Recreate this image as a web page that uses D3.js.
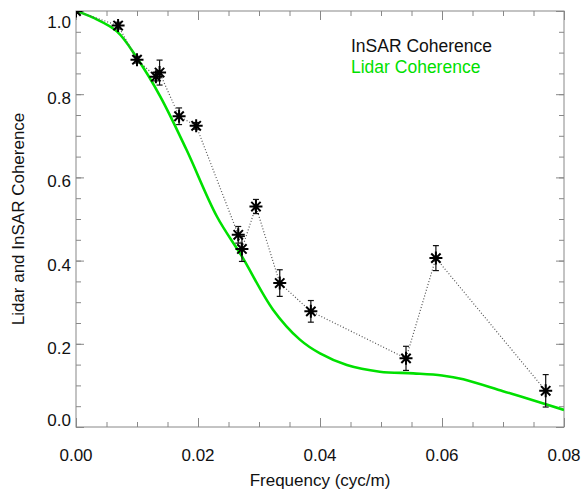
<!DOCTYPE html>
<html lang="en">
<head>
<meta charset="UTF-8">
<title>Lidar and InSAR Coherence</title>
<script src="https://d3js.org/d3.v7.min.js"></script>
<style>
  body { margin: 0; background: #fff; }
  text { font-family: "Liberation Sans", Arial, sans-serif; }
</style>
</head>
<body>
<svg id="chart" width="582" height="495"></svg>
<script>
// InSAR coherence estimates
const insarFreq = [0.0, 0.0069, 0.0100, 0.0131, 0.0137, 0.0169, 0.0197, 0.0266, 0.0272, 0.0295, 0.0334, 0.0385, 0.0541, 0.0590, 0.0770];
const insarCoh  = [1.0, 0.965, 0.883, 0.842, 0.852, 0.747, 0.724, 0.462, 0.428, 0.530, 0.346, 0.278, 0.165, 0.406, 0.087];
const insarErr  = [0.0, 0.008, 0.008, 0.010, 0.030, 0.020, 0.008, 0.020, 0.030, 0.017, 0.032, 0.026, 0.029, 0.030, 0.039];

// Lidar coherence curve
const lidarFreq = [0, 0.0028, 0.0067, 0.0100, 0.0138, 0.0181, 0.0231, 0.0272, 0.0323, 0.0367, 0.0400, 0.0444, 0.0498, 0.0553, 0.0600, 0.0635, 0.0700, 0.0728, 0.0800];
const lidarCoh  = [1.0, 0.984, 0.951, 0.887, 0.795, 0.667, 0.506, 0.410, 0.282, 0.210, 0.177, 0.149, 0.133, 0.129, 0.124, 0.115, 0.086, 0.074, 0.041];

const xTicks = [0, 0.02, 0.04, 0.06, 0.08];
const yTicks = [0, 0.2, 0.4, 0.6, 0.8, 1.0];
const legendLabels = ["InSAR Coherence", "Lidar Coherence"];

const margin = {top: 11, right: 18, bottom: 68, left: 76};
const width = 582 - margin.left - margin.right;
const height = 495 - margin.top - margin.bottom;
const axisColor = "#888";
const green = "#00e000";

const svg = d3.select("#chart");
const g = svg.append("g").attr("transform", `translate(${margin.left},${margin.top})`);

const x = d3.scaleLinear().domain([0, 0.08]).range([0, width]);
const y = d3.scaleLinear().domain([0, 1.0]).range([height, 0]);

g.append("clipPath").attr("id", "clip")
  .append("rect").attr("width", width).attr("height", height);

// minor + major ticks on all four sides
const xMinor = d3.range(0, 0.0801, 0.005);
const yMinor = d3.range(0, 1.001, 0.05);
function styleAxis(sel) {
  sel.select(".domain").remove();
  sel.selectAll("line").attr("stroke", axisColor);
  sel.selectAll("text").remove();
}
g.append("g").attr("transform", `translate(0,${height})`)
  .call(d3.axisBottom(x).tickValues(xMinor).tickSize(-5)).call(styleAxis);
g.append("g").attr("transform", `translate(0,${height})`)
  .call(d3.axisBottom(x).tickValues(xTicks).tickSize(-9)).call(styleAxis);
g.append("g")
  .call(d3.axisTop(x).tickValues(xMinor).tickSize(-5)).call(styleAxis);
g.append("g")
  .call(d3.axisTop(x).tickValues(xTicks).tickSize(-9)).call(styleAxis);
g.append("g")
  .call(d3.axisLeft(y).tickValues(yMinor).tickSize(-5)).call(styleAxis);
g.append("g")
  .call(d3.axisLeft(y).tickValues(yTicks).tickSize(-8)).call(styleAxis);
g.append("g").attr("transform", `translate(${width},0)`)
  .call(d3.axisRight(y).tickValues(yMinor).tickSize(-5)).call(styleAxis);
g.append("g").attr("transform", `translate(${width},0)`)
  .call(d3.axisRight(y).tickValues(yTicks).tickSize(-8)).call(styleAxis);

g.append("rect").attr("width", width).attr("height", height)
  .attr("fill", "none").attr("stroke", axisColor).attr("stroke-width", 1);

// tick labels
g.selectAll(".xlab").data(xTicks).join("text")
  .attr("x", d => x(d)).attr("y", height + 34)
  .attr("text-anchor", "middle").attr("font-size", 17).attr("fill", "#111")
  .text(d => d3.format(".2f")(d));
g.selectAll(".ylab").data(yTicks).join("text")
  .attr("x", -5)
  .attr("y", d => y(d) + (d === 1 ? 11 : d === 0 ? -7 : 4))
  .attr("dy", "0.35em")
  .attr("text-anchor", "end").attr("font-size", 17).attr("fill", "#111")
  .text(d => d3.format(".1f")(d));

// axis titles
svg.append("text")
  .attr("x", margin.left + width / 2).attr("y", 486)
  .attr("text-anchor", "middle").attr("font-size", 17).attr("fill", "#111")
  .text("Frequency (cyc/m)");
svg.append("text")
  .attr("transform", `translate(24,${margin.top + height / 2}) rotate(-90)`)
  .attr("text-anchor", "middle").attr("font-size", 17).attr("fill", "#111")
  .text("Lidar and InSAR Coherence");

const plot = g.append("g").attr("clip-path", "url(#clip)");

// lidar curve
const lidar = lidarFreq.map((f, i) => [f, lidarCoh[i]]);
plot.append("path").datum(lidar)
  .attr("fill", "none").attr("stroke", green).attr("stroke-width", 2.6)
  .attr("d", d3.line().x(d => x(d[0])).y(d => y(d[1])).curve(d3.curveCatmullRom.alpha(0.5)));

// insar dotted line
const insar = insarFreq.map((f, i) => ({f, c: insarCoh[i], e: insarErr[i]}));
plot.append("path").datum(insar)
  .attr("fill", "none").attr("stroke", "#555").attr("stroke-width", 1.2)
  .attr("stroke-dasharray", "1,2")
  .attr("d", d3.line().x(d => x(d.f)).y(d => y(d.c)));

// error bars
const eb = plot.selectAll(".eb").data(insar.filter(d => d.e > 0)).join("g");
eb.append("line")
  .attr("x1", d => x(d.f)).attr("x2", d => x(d.f))
  .attr("y1", d => y(d.c + d.e)).attr("y2", d => y(d.c - d.e))
  .attr("stroke", "#111").attr("stroke-width", 1.2);
[1, -1].forEach(s => {
  eb.append("line")
    .attr("x1", d => x(d.f) - 3).attr("x2", d => x(d.f) + 3)
    .attr("y1", d => y(d.c + s * d.e)).attr("y2", d => y(d.c + s * d.e))
    .attr("stroke", "#111").attr("stroke-width", 1.2);
});

// asterisk markers
const r = 6.5, rd = r * 0.72;
const star = `M0,${-r}V${r}M${-r},0H${r}M${-rd},${-rd}L${rd},${rd}M${-rd},${rd}L${rd},${-rd}`;
plot.selectAll(".star").data(insar).join("path")
  .attr("transform", d => `translate(${x(d.f)},${y(d.c)})`)
  .attr("d", star).attr("stroke", "#000").attr("stroke-width", 2).attr("fill", "none");

// legend
svg.append("text").attr("x", 351).attr("y", 52).attr("font-size", 17.5).attr("fill", "#111")
  .text(legendLabels[0]);
svg.append("text").attr("x", 351).attr("y", 73).attr("font-size", 17.5).attr("fill", green)
  .text(legendLabels[1]);
</script>
</body>
</html>
